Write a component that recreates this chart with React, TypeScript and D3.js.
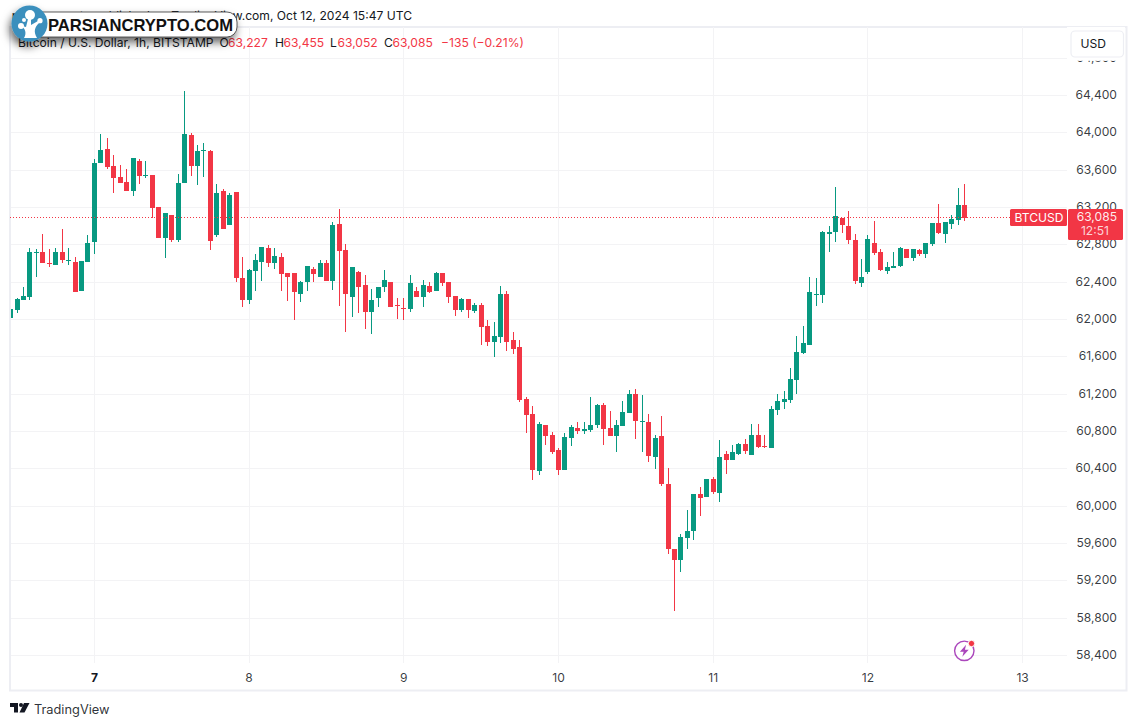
import * as d3 from 'd3'

// hours counted from Oct 7 00:00, first visible candle is Oct 6 11:00
const firstHour = -13
const opens = [
  62015, 62097, 62204, 62236, 62708, 62718, 62601, 62579, 62718, 62622, 62611, 62301, 62611,
  62826, 63672, 63822, 63640, 63522, 63468, 63372, 63693, 63533, 63543, 63200, 62868, 63115, 62847,
  63458, 63972, 63640, 63800, 63800, 62900, 63372, 63008, 63361, 62440,
  62204, 62515, 62611, 62761, 62600, 62664, 62493, 62493, 62268, 62397, 62536, 62450, 62600, 62407, 63018, 62739, 62236, 62504, 62364, 62075, 62225, 62343, 62397, 62150,
  62118, 62107, 62300, 62236, 62354, 62300, 62493, 62397, 62247, 62097, 62214, 62086, 62150, 61925, 61754, 61807, 62268, 61775, 61700, 61143, 60982, 60371, 60864, 60757,
  60596, 60382, 60725, 60832, 60800, 60811, 60864, 61079, 60832, 60746, 60854, 60993, 61196, 60896, 60896, 60521, 60746, 60232, 59536, 59418, 59654, 59729, 60125, 60093,
  60286, 60136, 60554, 60489, 60554, 60661, 60543, 60757, 60639, 60618, 61025, 61111, 61132, 61346, 61636, 61721, 62257, 62257, 62910, 62932, 63082, 62996, 62846, 62385,
  62503, 62814, 62718, 62514, 62546, 62568, 62750, 62653, 62739, 62696, 62803, 63028, 62910, 63018, 63060, 63227,
]
const highs = [
  62108, 62226, 62343, 62761, 62751, 62911, 62751, 62761, 62965, 62761, 62665, 62622, 62900,
  63715, 63983, 63940, 63758, 63650, 63608, 63725, 63715, 63693, 63543, 63200, 63136, 63115, 63554,
  64443, 63993, 63865, 63886, 63811, 63447, 63393, 63350, 63361, 62665,
  62536, 62697, 62772, 62793, 62761, 62707, 62493, 62493, 62407, 62568, 62557, 62632, 62632, 63039, 63179, 62804, 62557, 62514, 62472, 62322, 62343, 62525, 62397, 62225,
  62225, 62472, 62343, 62418, 62397, 62504, 62493, 62397, 62247, 62225, 62214, 62172, 62172, 61989, 61968, 62354, 62300, 61861, 61775, 61164, 61068, 60896, 60864, 60789,
  60618, 60779, 60864, 60896, 60896, 61164, 61089, 61100, 61014, 60918, 61121, 61239, 61250, 61186, 60982, 60757, 60961, 60404, 59536, 59697, 59954, 60125, 60200, 60286,
  60307, 60704, 60586, 60650, 60671, 60714, 60875, 60875, 60757, 61068, 61196, 61228, 61475, 61818, 61925, 62450, 62439, 62943, 62996, 63414, 63082, 63157, 62910, 62643,
  62900, 63050, 62750, 62610, 62718, 62771, 62750, 62750, 62750, 62814, 63028, 63232, 63039, 63114, 63403, 63455,
]
const lows = [
  62015, 62068, 62204, 62204, 62451, 62601, 62558, 62579, 62601, 62579, 62290, 62301, 62611,
  62697, 63672, 63608, 63350, 63458, 63372, 63318, 63447, 63511, 63083, 62868, 62654, 62826, 62826,
  63458, 63533, 63436, 63522, 62740, 62879, 62965, 63008, 62397, 62129,
  62161, 62301, 62408, 62557, 62536, 62300, 62193, 61989, 62182, 62300, 62397, 62450, 62407, 62311, 62139, 61861, 62022, 62064, 61893, 61839, 62129, 62289, 62129, 62000,
  61989, 62075, 62236, 62129, 62279, 62300, 62354, 62172, 62032, 62075, 62011, 62064, 61722, 61711, 61593, 61743, 61657, 61625, 61111, 60779, 60275, 60329, 60650, 60554,
  60329, 60382, 60639, 60768, 60768, 60789, 60832, 60650, 60746, 60575, 60854, 60993, 60714, 60575, 60468, 60393, 60211, 59482, 58872, 59289, 59536, 59632, 59889, 60093,
  60125, 60039, 60339, 60489, 60543, 60554, 60543, 60618, 60618, 60618, 60971, 61036, 61100, 61196, 61625, 61721, 62139, 62171, 62718, 62825, 62921, 62803, 62375, 62343,
  62482, 62685, 62514, 62482, 62546, 62557, 62653, 62621, 62675, 62653, 62782, 62910, 62814, 62964, 63007, 63052,
]
const closes = [
  62108, 62215, 62247, 62718, 62718, 62601, 62590, 62718, 62633, 62633, 62290, 62622, 62815,
  63672, 63811, 63629, 63511, 63458, 63372, 63725, 63533, 63543, 63190, 62868, 63136, 62847, 63458,
  63983, 63640, 63800, 63811, 62836, 63350, 62965, 63329, 62440, 62204,
  62526, 62633, 62772, 62600, 62675, 62482, 62450, 62289, 62397, 62568, 62482, 62600, 62407, 63007, 62729, 62268, 62557, 62343, 62075, 62204, 62343, 62418, 62129, 62139,
  62107, 62386, 62236, 62364, 62289, 62493, 62386, 62236, 62097, 62214, 62097, 62150, 61914, 61754, 61818, 62268, 61754, 61679, 61132, 60971, 60382, 60875, 60746, 60575,
  60382, 60736, 60843, 60800, 60821, 60864, 61079, 60821, 60746, 60864, 61004, 61196, 60907, 60907, 60532, 60725, 60232, 59536, 59418, 59664, 59729, 60125, 60082, 60286,
  60146, 60521, 60489, 60575, 60661, 60586, 60757, 60629, 60629, 61036, 61121, 61143, 61357, 61646, 61743, 62289, 62268, 62932, 62932, 63103, 63007, 62846, 62407, 62450,
  62857, 62707, 62525, 62557, 62568, 62760, 62653, 62750, 62696, 62814, 63028, 62921, 63039, 63071, 63221, 63085,
]

const priceTicks = [64800, 64400, 64000, 63600, 63200, 62800, 62400, 62000, 61600, 61200, 60800, 60400, 60000, 59600, 59200, 58800, 58400]
const dayTicks = [7, 8, 9, 10, 11, 12, 13]
const lastPrice = 63085
const countdown = '12:51'

const GREEN = '#089981'
const RED = '#F23645'
const GRID = '#F3F3F5'
const FRAME = '#EDEEF3'
const TEXT = '#131722'
const FONT = 'Inter, "Liberation Sans", sans-serif'
const FS = 12.1

const x = d3.scaleLinear().domain([0, 144]).range([94.4, 1022.6])
const y = d3.scaleLinear().domain([58400, 64400]).range([655.4, 95.4])
const fmt = d3.format(',')

const crisp = (v: number) => Math.floor(v) + 0.5

const candles = opens.map((o, i) => ({
  hour: firstHour + i,
  o,
  h: highs[i],
  l: lows[i],
  c: closes[i],
}))

const dotted = d3.range(10, 1010, 3)

export default function App() {
  return (
    <svg
      width={1137}
      height={726}
      style={{ position: 'absolute', left: 0, top: 0, background: '#fff' }}
      fontFamily={FONT}
    >
      <defs>
        <clipPath id="plot">
          <rect x={11} y={27} width={1056} height={663} />
        </clipPath>
        <filter id="pillShadow" x="-20%" y="-60%" width="140%" height="260%">
          <feDropShadow dx={-2} dy={5} stdDeviation={4.5} floodColor="#000" floodOpacity={0.6} />
        </filter>
      </defs>

      <text x={412} y={19.5} textAnchor="end" fontSize={FS} fill={TEXT}>
        parsiancrypto published on TradingView.com, Oct 12, 2024 15:47 UTC
      </text>

      {/* frame */}
      <rect x={10} y={27} width={1116.5} height={663.5} fill="none" stroke={FRAME} strokeWidth={2} />

      {/* grid */}
      {priceTicks.map(t => (
        <line key={t} x1={11} x2={1067} y1={crisp(y(t))} y2={crisp(y(t))} stroke={GRID} strokeWidth={1} />
      ))}
      {dayTicks.map(d => (
        <line key={d} x1={crisp(x((d - 7) * 24))} x2={crisp(x((d - 7) * 24))} y1={27} y2={663} stroke={GRID} strokeWidth={1} />
      ))}

      {/* candles */}
      <g clipPath="url(#plot)">
        {candles.map(d => {
          const cx = Math.floor(x(d.hour))
          const color = d.c >= d.o ? GREEN : RED
          const top = Math.round(y(Math.max(d.o, d.c)))
          const bottom = Math.round(y(Math.min(d.o, d.c)))
          const hi = Math.round(y(d.h))
          const lo = Math.round(y(d.l))
          return (
            <g key={d.hour} fill={color}>
              <rect x={cx} y={hi} width={1} height={Math.max(lo - hi, 1)} />
              <rect x={cx - 2} y={top} width={5} height={Math.max(bottom - top, 1)} />
            </g>
          )
        })}
      </g>

      {/* last price line */}
      {dotted.map(px => (
        <rect key={px} x={px} y={Math.floor(y(lastPrice)) - 1} width={1} height={1} fill={RED} />
      ))}

      {/* legend */}
      <text y={46.5} fontSize={FS} fill={TEXT}>
        <tspan x={18}>Bitcoin / U.S. Dollar, 1h, BITSTAMP</tspan>
        <tspan x={219.5}>O</tspan>
        <tspan x={228} fill={RED}>63,227</tspan>
        <tspan x={275}>H</tspan>
        <tspan x={283.5} fill={RED}>63,455</tspan>
        <tspan x={330}>L</tspan>
        <tspan x={337.5} fill={RED}>63,052</tspan>
        <tspan x={384}>C</tspan>
        <tspan x={392.5} fill={RED}>63,085</tspan>
        <tspan x={441} fill={RED}>{'\u2212135 (\u22120.21%)'}</tspan>
      </text>

      {/* price axis */}
      {priceTicks.map(t => (
        <text key={t} x={1117} y={y(t)} dy={3.6} textAnchor="end" fontSize={FS} fill={TEXT} fillOpacity={0.85}>
          {fmt(t)}
        </text>
      ))}
      <rect x={1067} y={27} width={58} height={33.8} fill="#fff" />
      <rect x={1071} y={31} width={52.5} height={26} rx={4} fill="#fff" stroke={FRAME} strokeWidth={1.2} />
      <text x={1080.5} y={48} fontSize={FS} fill={TEXT}>USD</text>

      {/* last price tags */}
      <rect x={1010} y={209} width={57} height={17} rx={1.5} fill={RED} />
      <text x={1014.5} y={222} fontSize={FS} fill="#fff">BTCUSD</text>
      <rect x={1068} y={209} width={55} height={31} rx={1.5} fill={RED} />
      <text x={1117} y={221} textAnchor="end" fontSize={FS} fill="#fff" fillOpacity={0.92}>{fmt(lastPrice)}</text>
      <text x={1109} y={235} textAnchor="end" fontSize={FS} fill="#fff" fillOpacity={0.8}>{countdown}</text>

      {/* time axis */}
      {dayTicks.map(d => (
        <text
          key={d}
          x={x((d - 7) * 24)}
          y={681.5}
          textAnchor="middle"
          fontSize={FS}
          fontWeight={d === 7 ? 700 : 400}
          fill={TEXT}
          fillOpacity={d === 7 ? 1 : 0.85}
        >
          {d}
        </text>
      ))}

      {/* lightning badge */}
      <g transform="translate(964.3,650.8)">
        <circle r={9.7} fill="#fff" stroke="#AB47BC" strokeWidth={1.4} />
        <path d="M1.8,-6 L-4.4,1 L-0.6,1 L-2,6 L4.4,-1 L0.6,-1 Z" fill="#AB47BC" />
        <circle cx={7.2} cy={-7.3} r={3.2} fill={RED} stroke="#fff" strokeWidth={1} />
      </g>

      {/* TradingView mark */}
      <g transform="translate(10,703)" fill={TEXT}>
        <path d="M0,0 H8 V9.5 H4 V4 H0 Z" />
        <circle cx={11} cy={2} r={2} />
        <path d="M14,0 H19.5 L14.5,9.5 H9.5 Z" />
      </g>
      <text x={34} y={714} fontSize={12.8} fill={TEXT} fillOpacity={0.9}>TradingView</text>

      {/* watermark */}
      <g filter="url(#pillShadow)">
        <rect x={28} y={12} width={209} height={25} rx={10} fill="#fff" stroke="#333" strokeWidth={0.8} />
        <circle cx={29.5} cy={23.5} r={18} fill="#3A8FBD" />
      </g>
      <text
        x={48}
        y={31}
        fontSize={16.4}
        fontWeight={700}
        fill="#111"
        fontFamily='"Liberation Sans", sans-serif'
        textLength={185}
        lengthAdjust="spacingAndGlyphs"
      >
        PARSIANCRYPTO.COM
      </text>
      <g fill="#fff">
        <circle cx={30} cy={15} r={5} />
        <circle cx={21} cy={26} r={3} />
        <circle cx={24} cy={20} r={2} />
        <circle cx={40} cy={20.7} r={2.6} />
        <path d="M24,38 C27,33 25,29 22,26 L26,27 L28,19 L31,19 L31,25 L38,21 L39,23 C35,27 33,31 37,38 Z" />
      </g>
    </svg>
  )
}
